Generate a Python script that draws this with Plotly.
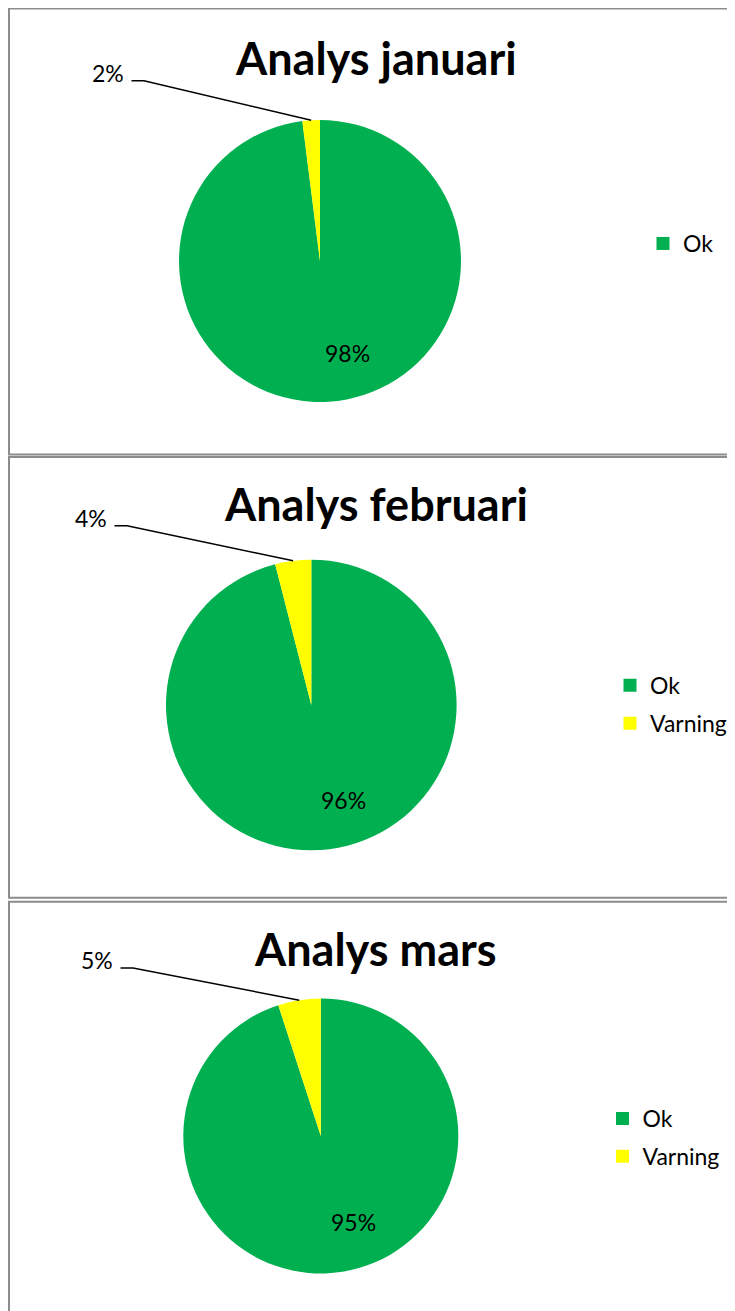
import math
import plotly.graph_objects as go

# ---------------- data ----------------
titles = ["Analys januari", "Analys februari", "Analys mars"]
categories = ["Ok", "Varning"]
ok_values = [98, 96, 95]
varning_values = [2, 4, 5]
legend_entries = [["Ok"], ["Ok", "Varning"], ["Ok", "Varning"]]
slice_colors = {"Ok": "#00B050", "Varning": "#FFFF00"}

# ---------------- layout constants (viewport pixels) ----------------
FW, FH = 735, 1311          # figure size
ORIGIN = 8                  # page margin in front of the figure
FONT = "Lato"
panels = [(8.5, 454.5), (457.0, 897.7), (901.7, 1340.0)]
pie_geom = [(320.0, 261.0, 141.0), (311.3, 705.0, 145.3), (320.8, 1136.0, 137.5)]
title_pos = [(375.5, 58.4), (375.5, 504.4), (375.0, 949.4)]
inside_label_pos = [(347.3, 354.0), (343.3, 800.7), (353.3, 1223.3)]
leader_anchor = [(144.0, 80.7), (127.0, 525.7), (133.0, 968.0)]
legend_pos = [(643.0, 222.0), (610.0, 663.8), (602.5, 1097.0)]


def px(x):
    return (x - ORIGIN) / FW


def py(y):
    return 1 - (y - ORIGIN) / FH


fig = go.Figure()
shapes = []
annotations = []
legend_layouts = {}

for i, title in enumerate(titles):
    vals = [ok_values[i], varning_values[i]]
    total = sum(vals)
    cx, cy, r = pie_geom[i]
    fig.add_trace(go.Pie(
        labels=categories,
        values=vals,
        marker=dict(colors=[slice_colors[c] for c in categories],
                    line=dict(width=0)),
        sort=False,
        direction="clockwise",
        rotation=0,
        textinfo="none",
        hoverinfo="label+percent",
        showlegend=False,
        domain=dict(x=[px(cx - r), px(cx + r)], y=[py(cy + r), py(cy - r)]),
    ))

    # panel border
    top, bottom = panels[i]
    shapes.append(dict(type="rect", xref="paper", yref="paper",
                       x0=px(9.0), x1=px(800), y0=py(bottom), y1=py(top),
                       line=dict(color="#8C8C8C", width=2), layer="above"))

    # title
    tx, ty = title_pos[i]
    annotations.append(dict(text=f"<b>{title}</b>", xref="paper", yref="paper",
                            x=px(tx), y=py(ty), xanchor="center", yanchor="middle",
                            showarrow=False, font=dict(family=FONT, size=45, color="black")))

    # inside label (Ok)
    ok_pct = round(100 * vals[0] / total)
    lx, ly = inside_label_pos[i]
    annotations.append(dict(text=f"{ok_pct}%", xref="paper", yref="paper",
                            x=px(lx), y=py(ly - 1), xanchor="center", yanchor="middle",
                            showarrow=False, font=dict(family=FONT, size=23, color="black")))

    # outside label (Varning) with leader line to the slice mid-angle
    var_pct = round(100 * vals[1] / total)
    mid_frac = (vals[0] + vals[1] / 2) / total
    theta = 2 * math.pi * mid_frac
    ex, ey = cx + r * math.sin(theta), cy - r * math.cos(theta)
    ax, ay = leader_anchor[i]
    path = (f"M {px(ax - 12.5)} {py(ay)} L {px(ax)} {py(ay)} "
            f"L {px(ex)} {py(ey)}")
    shapes.append(dict(type="path", xref="paper", yref="paper", path=path,
                       line=dict(color="black", width=1.5), layer="above"))
    annotations.append(dict(text=f"{var_pct}%", xref="paper", yref="paper",
                            x=px(ax - 18), y=py(ay - 8), xanchor="right", yanchor="middle",
                            showarrow=False, font=dict(family=FONT, size=23, color="black")))

    # legend entries
    lname = "legend" if i == 0 else f"legend{i + 1}"
    for lab in legend_entries[i]:
        fig.add_trace(go.Scatter(
            x=[None], y=[None], mode="markers", name=lab,
            marker=dict(symbol="square", size=13, color=slice_colors[lab]),
            legend=lname, legendgroup=f"{i}-{lab}", showlegend=True,
            hoverinfo="skip",
        ))
    lgx, lgy = legend_pos[i]
    legend_layouts[lname] = dict(
        x=px(lgx), y=py(lgy), xanchor="left", yanchor="top",
        font=dict(family=FONT, size=23, color="black"),
        bgcolor="rgba(0,0,0,0)", borderwidth=0,
        traceorder="grouped", tracegroupgap=5, itemclick=False,
        itemdoubleclick=False,
    )

fig.update_layout(
    width=FW, height=FH,
    margin=dict(l=0, r=0, t=0, b=0),
    paper_bgcolor="white", plot_bgcolor="white",
    xaxis=dict(visible=False), yaxis=dict(visible=False),
    shapes=shapes, annotations=annotations,
    **legend_layouts,
)

fig.write_html("out.html")
